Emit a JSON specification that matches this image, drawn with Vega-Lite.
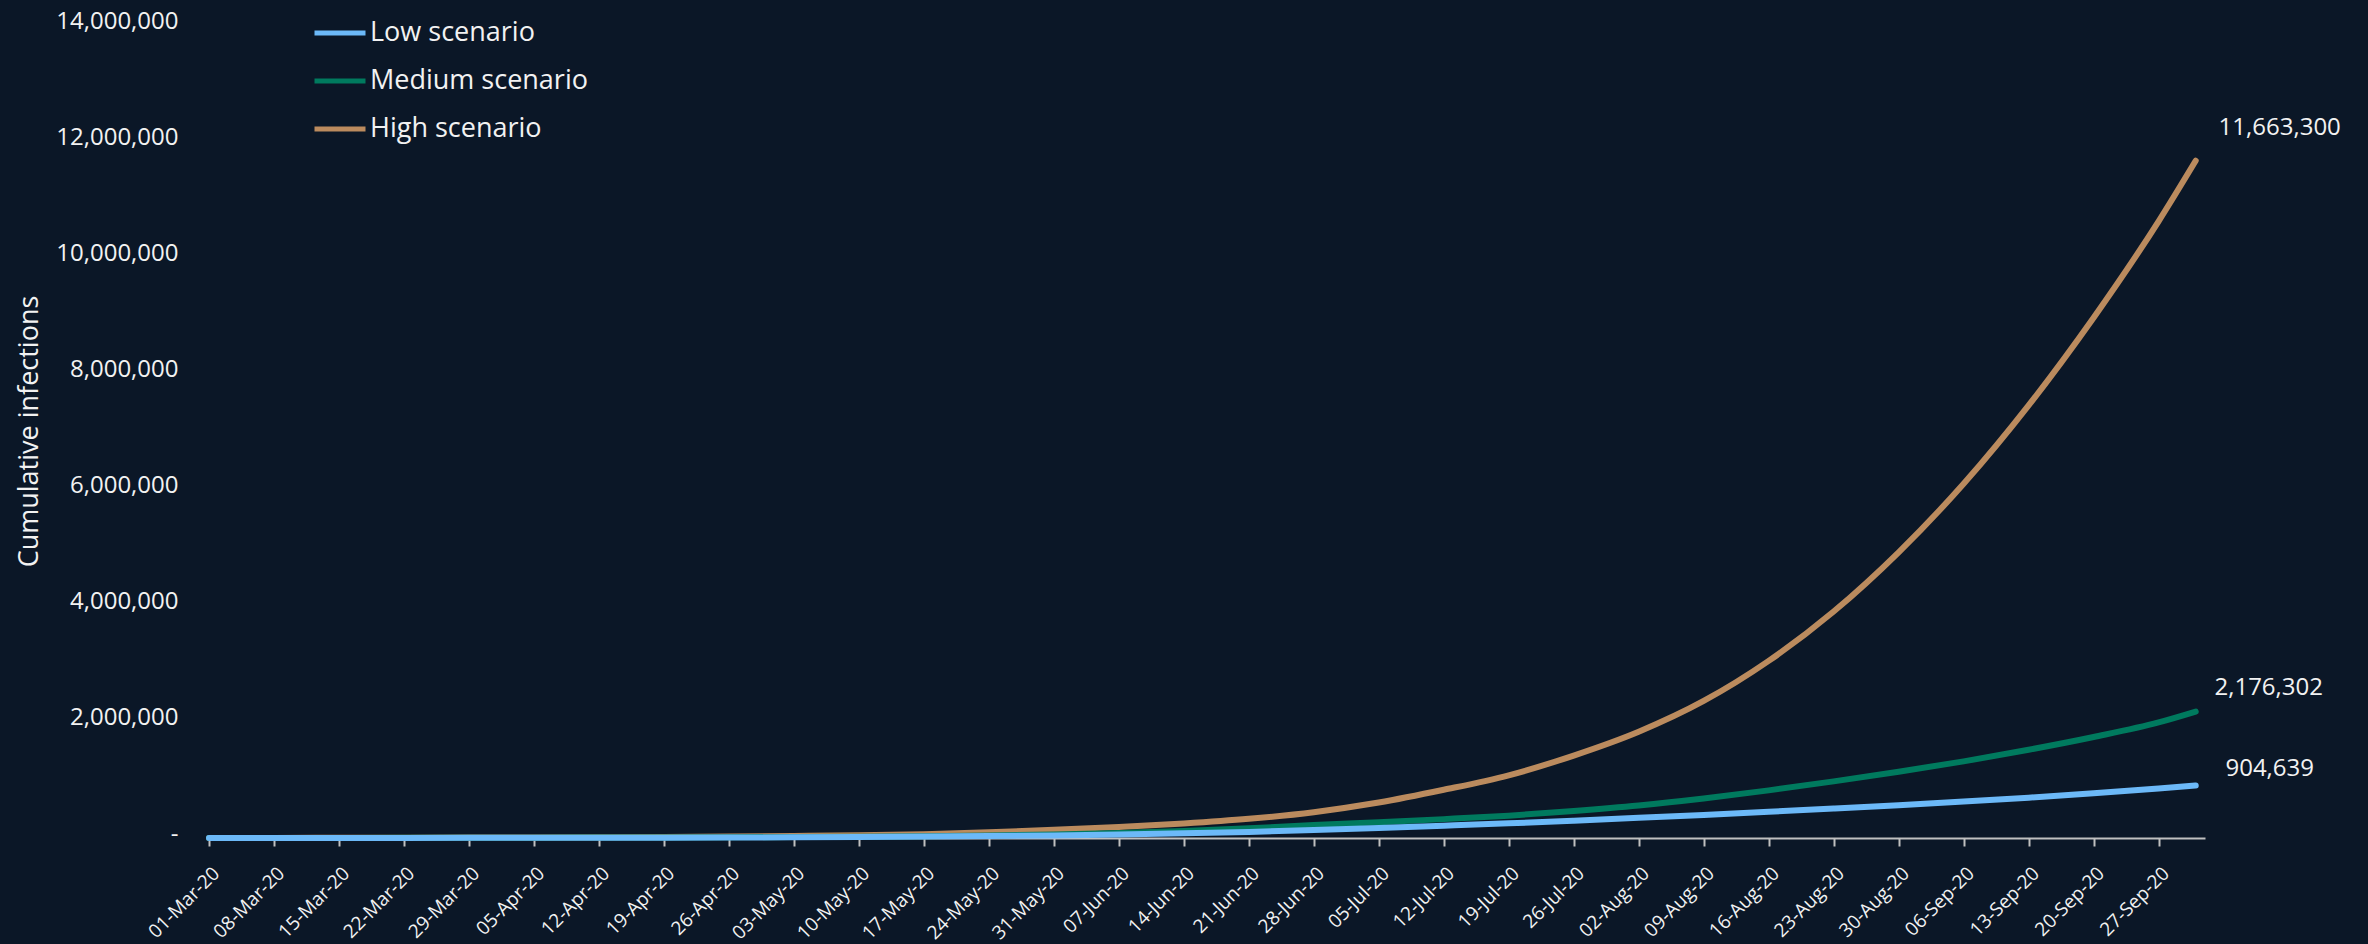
{
  "$schema": "https://vega.github.io/schema/vega-lite/v6.json",
  "width": 1996,
  "height": 813,
  "autosize": {"type": "none"},
  "padding": {"left": 209, "top": 25, "right": 163, "bottom": 106},
  "background": "#0b1727",
  "config": {
    "view": {"stroke": null},
    "font": "Open Sans",
    "axis": {"labelFont": "Open Sans", "titleFont": "Open Sans", "labelColor": "#f2f2f2", "titleColor": "#f2f2f2", "grid": false},
    "legend": {"labelFont": "Open Sans"}
  },
  "data": {
    "values": [
      {"date": "2020-03-01", "scenario": "High scenario", "value": 1000},
      {"date": "2020-03-08", "scenario": "High scenario", "value": 2000},
      {"date": "2020-03-15", "scenario": "High scenario", "value": 3500},
      {"date": "2020-03-22", "scenario": "High scenario", "value": 5000},
      {"date": "2020-03-29", "scenario": "High scenario", "value": 7000},
      {"date": "2020-04-05", "scenario": "High scenario", "value": 10000},
      {"date": "2020-04-12", "scenario": "High scenario", "value": 14000},
      {"date": "2020-04-19", "scenario": "High scenario", "value": 19000},
      {"date": "2020-04-26", "scenario": "High scenario", "value": 26000},
      {"date": "2020-05-03", "scenario": "High scenario", "value": 35000},
      {"date": "2020-05-10", "scenario": "High scenario", "value": 46000},
      {"date": "2020-05-17", "scenario": "High scenario", "value": 65000},
      {"date": "2020-05-24", "scenario": "High scenario", "value": 98000},
      {"date": "2020-05-31", "scenario": "High scenario", "value": 140000},
      {"date": "2020-06-07", "scenario": "High scenario", "value": 190000},
      {"date": "2020-06-14", "scenario": "High scenario", "value": 250000},
      {"date": "2020-06-21", "scenario": "High scenario", "value": 330000},
      {"date": "2020-06-28", "scenario": "High scenario", "value": 445000},
      {"date": "2020-07-05", "scenario": "High scenario", "value": 610000},
      {"date": "2020-07-12", "scenario": "High scenario", "value": 830000},
      {"date": "2020-07-19", "scenario": "High scenario", "value": 1080000},
      {"date": "2020-07-26", "scenario": "High scenario", "value": 1420000},
      {"date": "2020-08-02", "scenario": "High scenario", "value": 1830000},
      {"date": "2020-08-09", "scenario": "High scenario", "value": 2360000},
      {"date": "2020-08-16", "scenario": "High scenario", "value": 3050000},
      {"date": "2020-08-23", "scenario": "High scenario", "value": 3900000},
      {"date": "2020-08-30", "scenario": "High scenario", "value": 4920000},
      {"date": "2020-09-06", "scenario": "High scenario", "value": 6100000},
      {"date": "2020-09-13", "scenario": "High scenario", "value": 7450000},
      {"date": "2020-09-20", "scenario": "High scenario", "value": 8960000},
      {"date": "2020-09-27", "scenario": "High scenario", "value": 10620000},
      {"date": "2020-10-01", "scenario": "High scenario", "value": 11663300},
      {"date": "2020-03-01", "scenario": "Medium scenario", "value": 500},
      {"date": "2020-03-08", "scenario": "Medium scenario", "value": 1000},
      {"date": "2020-03-15", "scenario": "Medium scenario", "value": 1800},
      {"date": "2020-03-22", "scenario": "Medium scenario", "value": 2800},
      {"date": "2020-03-29", "scenario": "Medium scenario", "value": 4000},
      {"date": "2020-04-05", "scenario": "Medium scenario", "value": 5500},
      {"date": "2020-04-12", "scenario": "Medium scenario", "value": 7500},
      {"date": "2020-04-19", "scenario": "Medium scenario", "value": 10000},
      {"date": "2020-04-26", "scenario": "Medium scenario", "value": 13000},
      {"date": "2020-05-03", "scenario": "Medium scenario", "value": 17000},
      {"date": "2020-05-10", "scenario": "Medium scenario", "value": 22000},
      {"date": "2020-05-17", "scenario": "Medium scenario", "value": 29000},
      {"date": "2020-05-24", "scenario": "Medium scenario", "value": 42000},
      {"date": "2020-05-31", "scenario": "Medium scenario", "value": 60000},
      {"date": "2020-06-07", "scenario": "Medium scenario", "value": 86000},
      {"date": "2020-06-14", "scenario": "Medium scenario", "value": 122000},
      {"date": "2020-06-21", "scenario": "Medium scenario", "value": 168000},
      {"date": "2020-06-28", "scenario": "Medium scenario", "value": 222000},
      {"date": "2020-07-05", "scenario": "Medium scenario", "value": 272000},
      {"date": "2020-07-12", "scenario": "Medium scenario", "value": 325000},
      {"date": "2020-07-19", "scenario": "Medium scenario", "value": 385000},
      {"date": "2020-07-26", "scenario": "Medium scenario", "value": 465000},
      {"date": "2020-08-02", "scenario": "Medium scenario", "value": 560000},
      {"date": "2020-08-09", "scenario": "Medium scenario", "value": 680000},
      {"date": "2020-08-16", "scenario": "Medium scenario", "value": 820000},
      {"date": "2020-08-23", "scenario": "Medium scenario", "value": 975000},
      {"date": "2020-08-30", "scenario": "Medium scenario", "value": 1140000},
      {"date": "2020-09-06", "scenario": "Medium scenario", "value": 1320000},
      {"date": "2020-09-13", "scenario": "Medium scenario", "value": 1520000},
      {"date": "2020-09-20", "scenario": "Medium scenario", "value": 1740000},
      {"date": "2020-09-27", "scenario": "Medium scenario", "value": 1990000},
      {"date": "2020-10-01", "scenario": "Medium scenario", "value": 2176302},
      {"date": "2020-03-01", "scenario": "Low scenario", "value": 300},
      {"date": "2020-03-08", "scenario": "Low scenario", "value": 600},
      {"date": "2020-03-15", "scenario": "Low scenario", "value": 1000},
      {"date": "2020-03-22", "scenario": "Low scenario", "value": 1500},
      {"date": "2020-03-29", "scenario": "Low scenario", "value": 2200},
      {"date": "2020-04-05", "scenario": "Low scenario", "value": 3000},
      {"date": "2020-04-12", "scenario": "Low scenario", "value": 4200},
      {"date": "2020-04-19", "scenario": "Low scenario", "value": 6000},
      {"date": "2020-04-26", "scenario": "Low scenario", "value": 8500},
      {"date": "2020-05-03", "scenario": "Low scenario", "value": 12000},
      {"date": "2020-05-10", "scenario": "Low scenario", "value": 17000},
      {"date": "2020-05-17", "scenario": "Low scenario", "value": 24000},
      {"date": "2020-05-24", "scenario": "Low scenario", "value": 33000},
      {"date": "2020-05-31", "scenario": "Low scenario", "value": 45000},
      {"date": "2020-06-07", "scenario": "Low scenario", "value": 60000},
      {"date": "2020-06-14", "scenario": "Low scenario", "value": 80000},
      {"date": "2020-06-21", "scenario": "Low scenario", "value": 105000},
      {"date": "2020-06-28", "scenario": "Low scenario", "value": 138000},
      {"date": "2020-07-05", "scenario": "Low scenario", "value": 174000},
      {"date": "2020-07-12", "scenario": "Low scenario", "value": 212000},
      {"date": "2020-07-19", "scenario": "Low scenario", "value": 252000},
      {"date": "2020-07-26", "scenario": "Low scenario", "value": 298000},
      {"date": "2020-08-02", "scenario": "Low scenario", "value": 347000},
      {"date": "2020-08-09", "scenario": "Low scenario", "value": 398000},
      {"date": "2020-08-16", "scenario": "Low scenario", "value": 452000},
      {"date": "2020-08-23", "scenario": "Low scenario", "value": 508000},
      {"date": "2020-08-30", "scenario": "Low scenario", "value": 566000},
      {"date": "2020-09-06", "scenario": "Low scenario", "value": 628000},
      {"date": "2020-09-13", "scenario": "Low scenario", "value": 695000},
      {"date": "2020-09-20", "scenario": "Low scenario", "value": 770000},
      {"date": "2020-09-27", "scenario": "Low scenario", "value": 852000},
      {"date": "2020-10-01", "scenario": "Low scenario", "value": 904639}
    ]
  },
  "encoding": {
    "x": {
      "field": "date",
      "type": "temporal",
      "scale": {"type": "utc", "domain": [{"year": 2020, "month": 3, "date": 1, "utc": true}, {"year": 2020, "month": 10, "date": 2, "utc": true}]},
      "axis": {
        "title": null,
        "labelExpr": "utcFormat(datum.value, '%d-%b-%y')",
        "tickCount": {"interval": "week", "step": 1},
        "labelAngle": -45,
        "labelAlign": "right",
        "labelBaseline": "middle",
        "labelFontSize": 19,
        "labelPadding": 24,
        "labelOffset": 7,
        "labelOverlap": false,
        "labelFlush": false,
        "tickSize": 8,
        "tickWidth": 2,
        "tickColor": "#c0c0c0",
        "domainColor": "#c0c0c0",
        "domainWidth": 2
      }
    },
    "y": {
      "field": "value",
      "type": "quantitative",
      "scale": {"domain": [0, 14000000], "nice": false},
      "axis": {
        "title": "Cumulative infections",
        "values": [0, 2000000, 4000000, 6000000, 8000000, 10000000, 12000000, 14000000],
        "labelExpr": "datum.value === 0 ? '-' : format(datum.value, ',')",
        "labelFontSize": 24,
        "labelPadding": 31,
        "labelOffset": -4,
        "ticks": false,
        "domain": false,
        "titleFontSize": 27,
        "titleFontWeight": "normal",
        "titleAngle": 270,
        "titleX": -172,
        "titleY": 406,
        "titleAlign": "center",
        "titleBaseline": "alphabetic"
      }
    }
  },
  "layer": [
    {
      "mark": {"type": "line", "strokeWidth": 6, "strokeCap": "round", "interpolate": "monotone"},
      "encoding": {
        "color": {
          "field": "scenario",
          "type": "nominal",
          "scale": {"domain": ["Low scenario", "Medium scenario", "High scenario"], "range": ["#6cb9f8", "#007a5e", "#bb8b5e"]},
          "legend": {
            "title": null,
            "orient": "none",
            "legendX": 103,
            "legendY": -16,
            "symbolType": "stroke",
            "symbolSize": 2601,
            "symbolStrokeWidth": 5,
            "labelFontSize": 27,
            "labelColor": "#f2f2f2",
            "labelOffset": 2,
            "labelLimit": 500,
            "clipHeight": 48,
            "rowPadding": 0,
            "padding": 0
          }
        }
      }
    },
    {
      "transform": [{"filter": "+toDate(datum.date) === +toDate('2020-10-01') && datum.scenario === 'High scenario'"}],
      "mark": {"type": "text", "align": "center", "baseline": "middle", "dx": 84, "dy": -33, "fontSize": 24, "color": "#f2f2f2", "font": "Open Sans"},
      "encoding": {"text": {"field": "value", "type": "quantitative", "format": ","}}
    },
    {
      "transform": [{"filter": "+toDate(datum.date) === +toDate('2020-10-01') && datum.scenario === 'Medium scenario'"}],
      "mark": {"type": "text", "align": "center", "baseline": "middle", "dx": 73, "dy": -24, "fontSize": 24, "color": "#f2f2f2", "font": "Open Sans"},
      "encoding": {"text": {"field": "value", "type": "quantitative", "format": ","}}
    },
    {
      "transform": [{"filter": "+toDate(datum.date) === +toDate('2020-10-01') && datum.scenario === 'Low scenario'"}],
      "mark": {"type": "text", "align": "center", "baseline": "middle", "dx": 74, "dy": -16, "fontSize": 24, "color": "#f2f2f2", "font": "Open Sans"},
      "encoding": {"text": {"field": "value", "type": "quantitative", "format": ","}}
    }
  ]
}
